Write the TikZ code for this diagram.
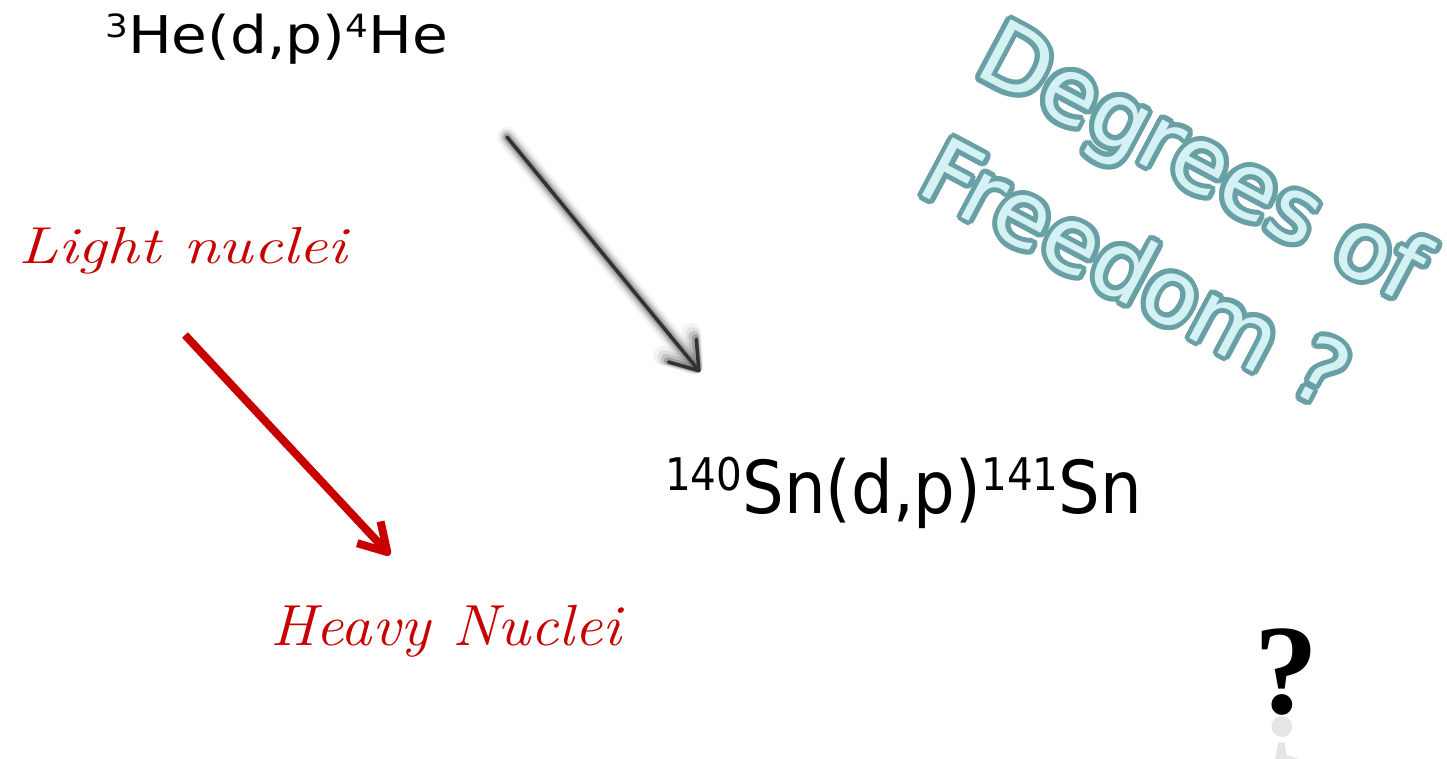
\documentclass[tikz,border=0pt]{standalone}
\usepackage{fontspec}
\setmainfont{DejaVu Sans}
\newfontfamily\condfont{DejaVu Sans Condensed}
\newfontfamily\qfont{Liberation Serif}
\newfontfamily\lmfont{Latin Modern Roman}
\usetikzlibrary{arrows.meta}
\definecolor{nred}{RGB}{200,0,0}
\definecolor{arrcore}{RGB}{50,50,50}
\definecolor{arrhalo}{RGB}{110,110,110}
\definecolor{dofedge}{RGB}{105,160,165}
\definecolor{doffill}{RGB}{212,242,244}
\tikzset{
  formula/.style={anchor=base west, inner sep=0pt, text=black},
  cursive/.style={anchor=base west, inner sep=0pt, text=nred, font=\lmfont\itshape},
  doftext/.style={inner sep=0pt, rotate=-28, font=\fontsize{90}{90}\selectfont},
  grayarrow/.style={line cap=round, -{Straight Barb[length=26pt,width=36pt,line cap=round,line join=round]}},
  redarrow/.style={nred, line width=8pt, -{Straight Barb[length=27pt,width=32pt,line join=round]}}
}
\newcommand{\supA}[1]{\raisebox{16pt}{\fontsize{32}{32}\selectfont #1}}
\newcommand{\supB}[1]{\raisebox{23pt}{\fontsize{45}{45}\selectfont #1}}
\begin{document}
\begin{tikzpicture}[x=1pt,y=-1pt]
\useasboundingbox (0,0) rectangle (1447,758);
\fill[white] (0,0) rectangle (1447,758);

% formulas
\node[formula, xscale=1.12] (he) at (105,53) {\fontsize{52}{60}\selectfont\supA{3}He(d,p)\supA{4}He};
\node[formula] (sn) at (665,513) {\condfont\fontsize{73}{80}\selectfont\supB{140}Sn(d,p)\supB{141}Sn};

% cursive labels
\node[cursive, xscale=1.25] (light) at (18,263) {\fontsize{52}{56}\selectfont Light nuclei};
\node[cursive, xscale=1.08] (heavy) at (270,645) {\fontsize{58}{60}\selectfont Heavy Nuclei};

% gray arrow with halo
\coordinate (ga1) at (507,137);
\coordinate (ga2) at (700,372);
\foreach \w/\o in {20/0.07,15/0.14,11/0.25,7/0.4} {
  \draw[grayarrow, arrhalo, line width=\w pt, opacity=\o] (ga1) -- (ga2);
}
\draw[grayarrow, arrcore, line width=3.5pt] (ga1) -- (ga2);

% red arrow
\coordinate (ra1) at (185,335);
\coordinate (ra2) at (390,555);
\draw[redarrow] (ra1) -- (ra2);

% Degrees of Freedom ?
\foreach \a [count=\i] in {0,22.5,...,337.5} {
  \node[doftext, text=dofedge] (dofA\i) at ({1200+5*cos(\a)},{167+5*sin(\a)}) {Degrees of};
  \node[doftext, text=dofedge] (dofB\i) at ({1137+5*cos(\a)},{272+5*sin(\a)}) {Freedom ?};
}
\node[doftext, text=doffill] (dofa) at (1200,167) {Degrees of};
\node[doftext, text=doffill] (dofb) at (1137,272) {Freedom ?};

% question mark and reflection
\node[anchor=base, inner sep=0pt] (qm) at (1286,713) {\qfont\bfseries\fontsize{128}{128}\selectfont ?};
\node[anchor=base, inner sep=0pt, yscale=-1, opacity=0.1] (qmr) at (1286,718) {\qfont\bfseries\fontsize{128}{128}\selectfont ?};
\end{tikzpicture}
\end{document}
